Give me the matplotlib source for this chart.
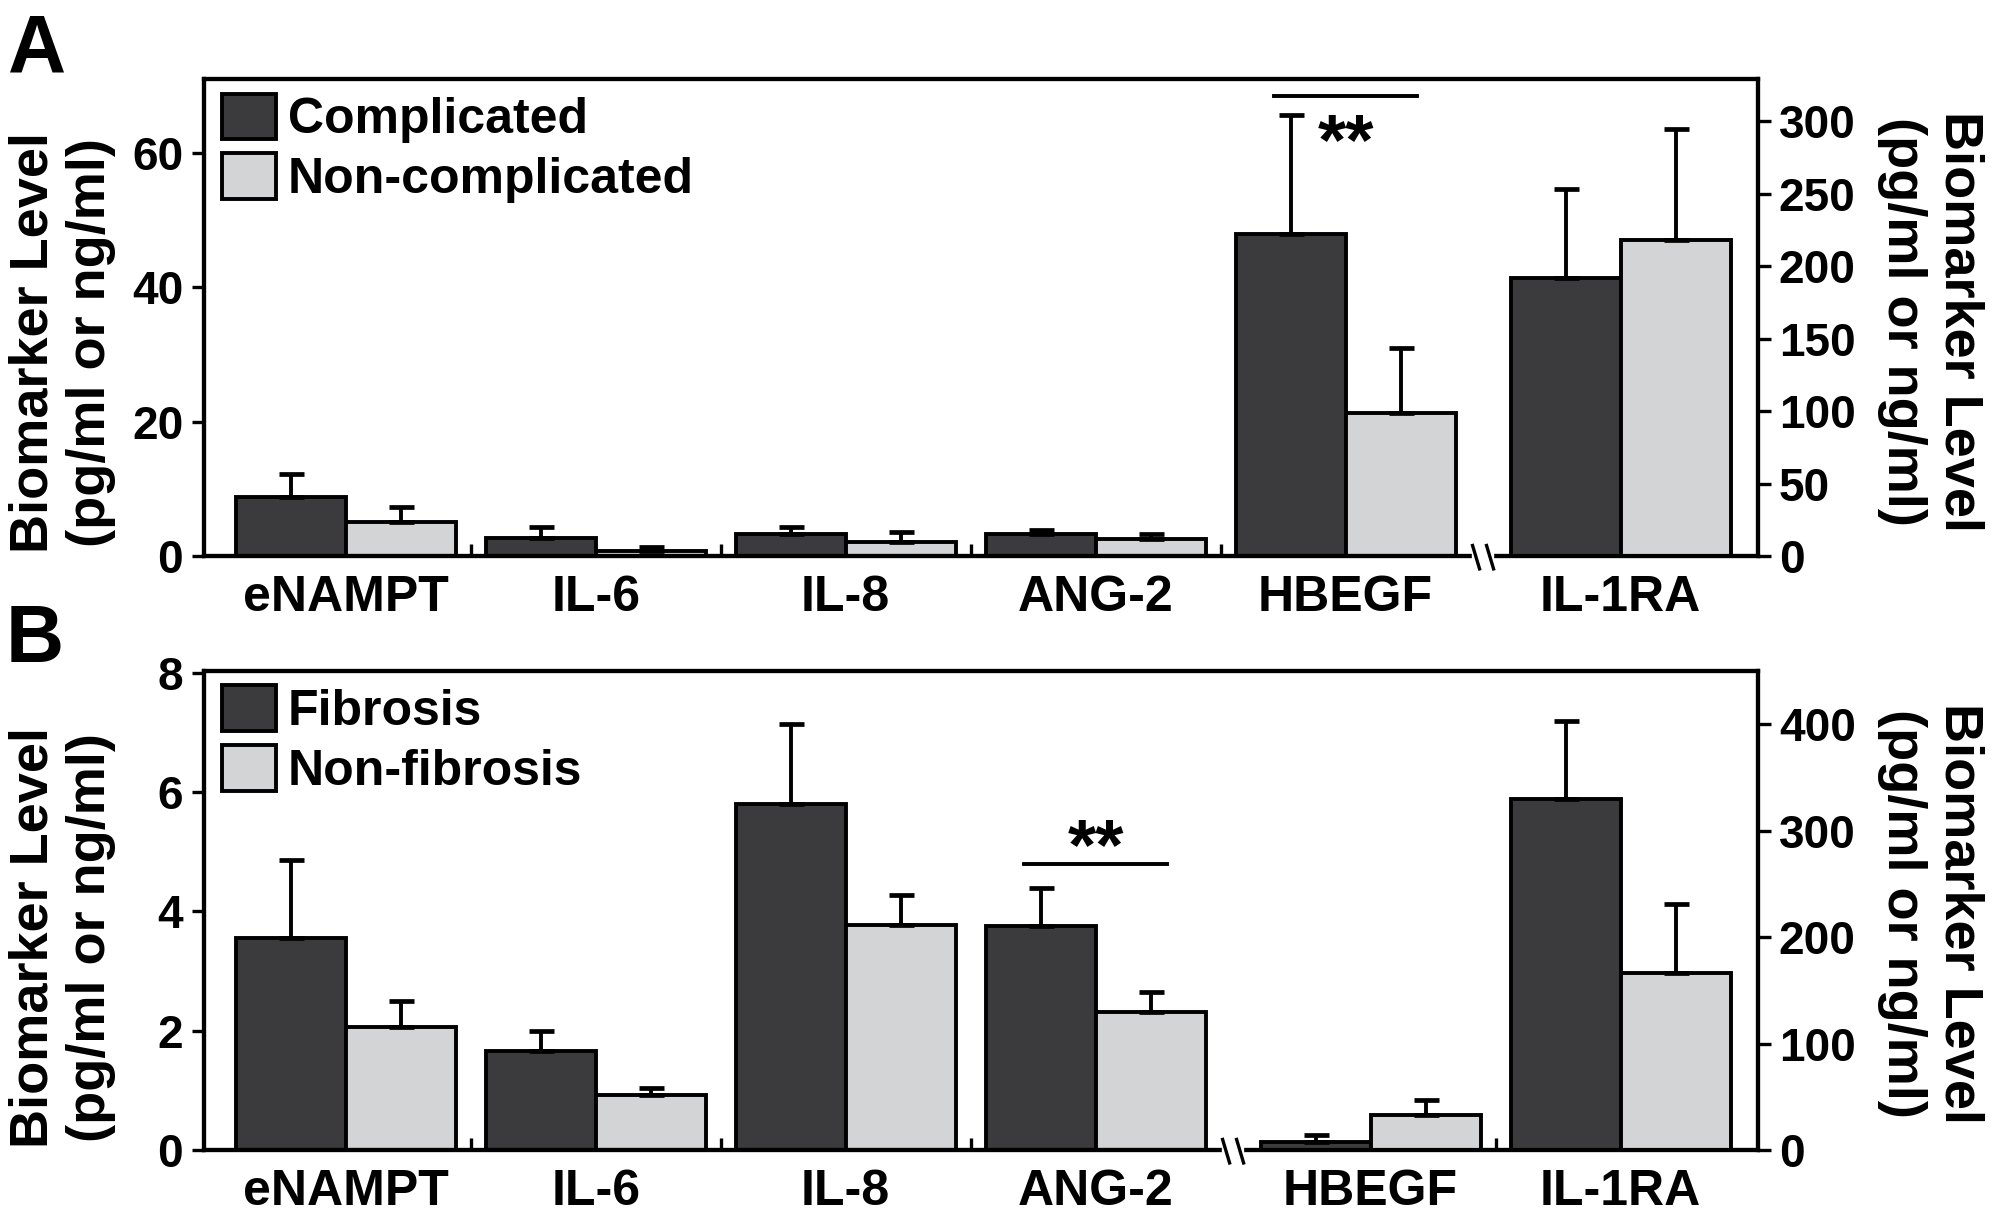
import matplotlib
matplotlib.use("Agg")
import matplotlib.pyplot as plt
import matplotlib.transforms as mtransforms
import numpy as np

plt.rcParams['font.family'] = ['Liberation Sans', 'DejaVu Sans']
plt.rcParams['font.weight'] = 'bold'

categories = ['eNAMPT', 'IL-6', 'IL-8', 'ANG-2', 'HBEGF', 'IL-1RA']

# Panel A: complicated vs non-complicated (last group on the right axis)
a_labels = ['Complicated', 'Non-complicated']
a_dark = [8.8, 2.65, 3.2, 3.2, 47.9, 192]
a_dark_err = [3.4, 1.65, 1.1, 0.7, 17.7, 61]
a_light = [5.0, 0.76, 2.06, 2.5, 21.3, 218]
a_light_err = [2.35, 0.6, 1.45, 0.7, 9.6, 77]
a_split = 5
a_sig_group = 4

# Panel B: fibrosis vs non-fibrosis (last two groups on the right axis)
b_labels = ['Fibrosis', 'Non-fibrosis']
b_dark = [3.56, 1.66, 5.80, 3.75, 7.9, 330]
b_dark_err = [1.30, 0.33, 1.34, 0.64, 6.4, 73]
b_light = [2.06, 0.93, 3.78, 2.31, 33, 166]
b_light_err = [0.43, 0.11, 0.50, 0.34, 13.6, 65]
b_split = 4
b_sig_group = 3

DARK = '#3b3b3d'
LIGHT = '#d3d4d6'
BAR_W = 0.44
GAP = 0.1
YLABEL = 'Biomarker Level\n(pg/ml or ng/ml)'

fig = plt.figure(figsize=(19.95, 12.18), dpi=100)


def draw_panel(rect, dark, dark_err, light, light_err, labels, split,
               ylim_l, ylim_r, yticks_l, yticks_r, sig_group, sig_pad,
               star_dy, ylab_y):
    dark, dark_err = np.array(dark), np.array(dark_err)
    light, light_err = np.array(light), np.array(light_err)
    x = np.arange(len(categories), dtype=float)
    x[split:] += GAP

    ax = fig.add_axes(rect)
    ax2 = ax.twinx()
    for axis, sl in ((ax, slice(0, split)), (ax2, slice(split, None))):
        xs = x[sl]
        axis.bar(xs - BAR_W / 2, dark[sl], BAR_W, color=DARK, edgecolor='black',
                 linewidth=2.8, label=labels[0], zorder=2)
        axis.bar(xs + BAR_W / 2, light[sl], BAR_W, color=LIGHT, edgecolor='black',
                 linewidth=2.8, label=labels[1], zorder=2)
        for off, v, e in ((-BAR_W / 2, dark[sl], dark_err[sl]),
                          (BAR_W / 2, light[sl], light_err[sl])):
            axis.errorbar(xs + off, v, yerr=[np.zeros_like(e), e], fmt='none',
                          ecolor='black', elinewidth=2.8, capsize=9, capthick=3.4,
                          zorder=3)

    ax.set_xlim(-0.567, 5.65)
    ax.set_ylim(*ylim_l)
    ax2.set_ylim(*ylim_r)
    ax.set_yticks(yticks_l)
    ax2.set_yticks(yticks_r)

    for a in (ax, ax2):
        for s in a.spines.values():
            s.set_linewidth(3.0)
        a.tick_params(axis='y', direction='out', length=9, width=2.4,
                      labelsize=33, pad=6)

    ax.set_xticks(x)
    ax.set_xticklabels(categories)
    ax.tick_params(axis='x', which='major', length=0, labelsize=36, pad=14)
    seps = [(x[i] + x[i + 1]) / 2 for i in range(len(x) - 1) if i + 1 != split]
    ax.set_xticks(seps, minor=True)
    ax.tick_params(axis='x', which='minor', direction='in', length=9, width=2.4)

    # axis break on the baseline: two slanted strokes with a gap
    trans = mtransforms.blended_transform_factory(ax2.transData, ax2.transAxes)
    xb = (x[split - 1] + x[split]) / 2
    ax2.plot([xb - 0.028, xb + 0.028], [0, 0], color='white', lw=6,
             transform=trans, clip_on=False, zorder=5)
    for off in (-0.028, 0.028):
        ax2.plot([xb + off - 0.014, xb + off + 0.014], [0.022, -0.027], color='black',
                 lw=2.4, transform=trans, clip_on=False, zorder=6)

    # significance bar
    c = x[sig_group]
    top = max(dark[sig_group] + dark_err[sig_group], light[sig_group] + light_err[sig_group])
    ly = top + sig_pad
    ax.plot([c - 0.285, c + 0.285], [ly, ly], color='black', lw=2.8, zorder=4)
    ax.annotate('**', xy=(c, ly), xytext=(0, star_dy), textcoords='offset points',
                ha='center', va='center', fontsize=52, fontweight='bold')

    ax.legend(loc='upper left', bbox_to_anchor=(0.0116, 0.97), borderaxespad=0,
              borderpad=0, frameon=False, fontsize=36, handlelength=1.07,
              handleheight=1.02, labelspacing=0.2, handletextpad=0.25)

    ax.text(-0.091, ylab_y[0], YLABEL, rotation=90, ha='center', va='center',
            multialignment='center', fontsize=39, linespacing=1.2,
            transform=ax.transAxes)
    ax2.text(1.111, ylab_y[1], YLABEL, rotation=270, ha='center', va='center',
             multialignment='center', fontsize=39, linespacing=1.2,
             transform=ax2.transAxes)
    return ax


draw_panel([0.10226, 0.54351, 0.77895, 0.39138], a_dark, a_dark_err, a_light,
           a_light_err, a_labels, a_split, (0, 70.9), (0, 329),
           [0, 20, 40, 60], [0, 50, 100, 150, 200, 250, 300], a_sig_group, 2.8,
           -35, (0.447, 0.491))
draw_panel([0.10226, 0.05583, 0.77895, 0.39327], b_dark, b_dark_err, b_light,
           b_light_err, b_labels, b_split, (0, 8.03), (0, 450),
           [0, 2, 4, 6, 8], [0, 100, 200, 300, 400], b_sig_group, 0.4,
           10, (0.443, 0.494))

fig.text(0.004, 0.9409, 'A', fontsize=58, fontweight='bold', ha='left', va='baseline')
fig.text(0.003, 0.4565, 'B', fontsize=58, fontweight='bold', ha='left', va='baseline')

fig.savefig('out.png', dpi=100)
